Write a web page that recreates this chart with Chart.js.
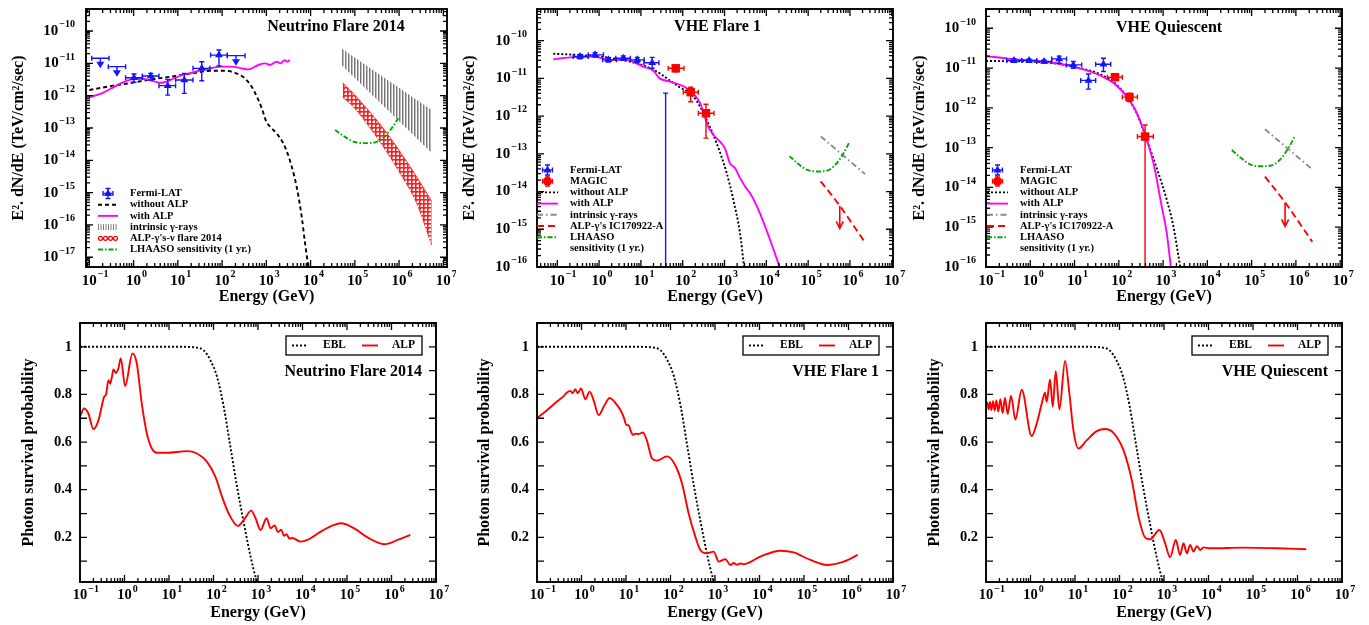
<!DOCTYPE html>
<html lang="en">
<head>
<meta charset="UTF-8">
<meta name="viewport" content="width=device-width, initial-scale=1.0">
<title>ALP - SED and photon survival</title>
<script src="https://cdn.jsdelivr.net/npm/chart.js"></script>
<style>
    body { margin: 0; padding: 0; background-color: #fff; }
    #wrap { position: relative; width: 1369px; height: 625px; overflow: hidden; }
    canvas { position: absolute; }
</style>
</head>
<body>
<div id="wrap">
    <canvas id="sedNF"  width="456" height="310" style="left:0px;top:0px"></canvas>
    <canvas id="sedVF1" width="450" height="310" style="left:456px;top:0px"></canvas>
    <canvas id="sedVQ"  width="463" height="310" style="left:906px;top:0px"></canvas>
    <canvas id="psNF"   width="456" height="315" style="left:0px;top:310px"></canvas>
    <canvas id="psVF1"  width="450" height="315" style="left:456px;top:310px"></canvas>
    <canvas id="psVQ"   width="463" height="315" style="left:906px;top:310px"></canvas>
</div>
<script>
// ---------------- data : Neutrino Flare 2014 (SED) ----------------
const nfFermiE   = [0.177, 0.42, 1.02, 2.44, 5.9, 14.0, 34.7, 85, 206];
const nfFermiElo = [0.113, 0.268, 0.66, 1.58, 3.75, 8.9, 22, 55, 131];
const nfFermiEhi = [0.278, 0.66, 1.58, 3.75, 8.9, 22, 53, 131, 330];
const nfFermiF   = [1.43e-11, 7.9e-12, 3.6e-12, 4.06e-12, 2.04e-12, 3.05e-12, 7.0e-12, 1.8e-11, 1.73e-11];
const nfFermiFlo = [0, 0, 2.6e-12, 3.05e-12, 1.04e-12, 1.18e-12, 2.9e-12, 8.3e-12, 0];
const nfFermiFhi = [0, 0, 4.7e-12, 4.9e-12, 3.2e-12, 4.9e-12, 1.12e-11, 2.58e-11, 0];
const nfFermiUL  = [1, 1, 0, 0, 0, 0, 0, 0, 1];

const nfNoAlpE = [0.1, 0.32, 0.91, 2.57, 7.3, 20.6, 58, 116, 195, 330, 465, 660, 786, 1000, 1320, 1700, 2400, 3400, 4850, 6300, 7500, 8900];
const nfNoAlpF = [1.5e-12, 2.0e-12, 2.5e-12, 3.2e-12, 3.9e-12, 4.9e-12, 5.9e-12, 5.9e-12, 5.1e-12, 3.4e-12, 1.9e-12, 7.4e-13, 4.1e-13, 1.57e-13, 9.8e-14, 6.8e-14, 3.4e-14, 1.0e-14, 1.5e-15, 1.8e-16, 2.7e-17, 5e-18];

const nfAlpE = [0.1, 0.19, 0.32, 0.54, 0.91, 1.52, 2.57, 4.3, 7.3, 12.2, 20.6, 34.7, 58, 98, 165, 277, 390, 660, 940, 1220, 1700, 2100, 2600, 2960, 3400];
const nfAlpF = [9.0e-13, 1.18e-12, 1.7e-12, 2.5e-12, 3.2e-12, 3.35e-12, 2.9e-12, 2.5e-12, 3.2e-12, 4.3e-12, 5.1e-12, 6.2e-12, 7.2e-12, 7.9e-12, 7.9e-12, 7.0e-12, 6.5e-12, 8.9e-12, 1.0e-11, 8.9e-12, 1.12e-11, 1.0e-11, 1.26e-11, 1.12e-11, 1.26e-11];

const nfIntrE  = [5.0e4, 5.4e6];
const nfIntrHi = [2.9e-11, 3.6e-13];
const nfIntrLo = [8.9e-12, 1.7e-14];

const nfAlpNuE  = [5.3e4, 9.2e4, 1.85e5, 4.4e5, 1.05e6, 2.5e6, 5.45e6];
const nfAlpNuHi = [2.5e-12, 1.18e-12, 4.05e-13, 9.8e-14, 1.86e-14, 3.1e-15, 5.4e-16];
const nfAlpNuLo = [8.9e-13, 4.6e-13, 1.39e-13, 2.65e-14, 4.0e-15, 4.7e-16, 2.4e-17];

// LHAASO 1 yr sensitivity (same in the three SED panels)
const lhaasoE = [3.57e4, 5.5e4, 9.25e4, 1.56e5, 2.62e5, 4.4e5, 6.8e5, 9.6e5];
const lhaasoF = [8.7e-14, 5.7e-14, 3.8e-14, 3.4e-14, 3.5e-14, 5.0e-14, 9.8e-14, 2.0e-13];

// ---------------- data : VHE Flare 1 (SED) ----------------
const vf1FermiE   = [0.35, 0.8, 1.66, 3.8, 8.2, 18.6, 39];
const vf1FermiElo = [0.24, 0.55, 1.21, 2.5, 5.6, 11.8, 39];
const vf1FermiEhi = [0.55, 1.27, 2.6, 5.6, 12, 27, 39];
const vf1FermiF   = [3.8e-11, 4.2e-11, 3.1e-11, 3.4e-11, 3.1e-11, 2.6e-11, 1e-18];
const vf1FermiFlo = [3.3e-11, 3.7e-11, 2.7e-11, 3.0e-11, 2.6e-11, 1.86e-11, 1e-18];
const vf1FermiFhi = [4.3e-11, 4.8e-11, 3.5e-11, 3.9e-11, 3.6e-11, 3.6e-11, 4.07e-12];

const vf1MagicE   = [68, 155, 360];
const vf1MagicElo = [45, 103, 236];
const vf1MagicEhi = [107, 236, 560];
const vf1MagicF   = [1.85e-11, 4.3e-12, 1.19e-12];
const vf1MagicFlo = [1.5e-11, 2.4e-12, 2.6e-13];
const vf1MagicFhi = [2.2e-11, 5.8e-12, 2.06e-12];

const vf1NoAlpE = [0.08, 0.73, 4.6, 20, 72, 180, 259, 374, 649, 1125, 1625, 2345, 2924];
const vf1NoAlpF = [4.5e-11, 3.9e-11, 2.9e-11, 1.7e-11, 6.5e-12, 3.3e-12, 1.8e-12, 7.9e-13, 1.9e-13, 3.1e-14, 6.0e-15, 7.9e-16, 1.04e-16];

const vf1AlpE = [0.08, 0.2, 0.73, 1.8, 4.6, 11.4, 19.8, 28, 50, 125, 260, 409, 540, 780, 1025, 1350, 1780, 2345, 3090, 4100, 7000, 12300, 20500];
const vf1AlpF = [3.2e-11, 3.6e-11, 3.8e-11, 3.1e-11, 3.1e-11, 2.05e-11, 1.6e-11, 1.0e-11, 8.2e-12, 5.5e-12, 2.2e-12, 5.2e-13, 3.2e-13, 2.1e-13, 1.4e-13, 5.6e-14, 4.2e-14, 2.3e-14, 1.36e-14, 9.0e-15, 2.7e-15, 5.2e-16, 1.05e-16];

// intrinsic gamma-rays and ALP gammas from IC170922-A (VHE panels)
const vhIntrE  = [2.0e5, 2.3e6];
const vhIntrF  = [2.9e-13, 2.9e-14];
const vhAlpNuE = [2.0e5, 5.7e5, 2.35e6];
const vhAlpNuF = [1.87e-14, 4.2e-15, 4.3e-16];
const vhUlE    = [5.7e5];
const vhUlFrom = [4.2e-15];
const vhUlTo   = [1.05e-15];

// ---------------- data : VHE Quiescent (SED) ----------------
const vqFermiE   = [0.43, 0.94, 2.05, 4.5, 9.4, 20.6, 45];
const vqFermiElo = [0.293, 0.64, 1.40, 3.05, 6.5, 13.8, 30];
const vqFermiEhi = [0.64, 1.40, 3.05, 6.6, 14.5, 30, 65.6];
const vqFermiF   = [1.55e-11, 1.55e-11, 1.46e-11, 1.7e-11, 1.2e-11, 4.9e-12, 1.25e-11];
const vqFermiFlo = [1.4e-11, 1.4e-11, 1.33e-11, 1.32e-11, 9.9e-12, 2.95e-12, 8.2e-12];
const vqFermiFhi = [1.7e-11, 1.7e-11, 1.6e-11, 2.0e-11, 1.46e-11, 7.1e-12, 1.77e-11];

const vqMagicE   = [82, 174, 392];
const vqMagicElo = [55, 120, 263];
const vqMagicEhi = [120, 263, 603];
const vqMagicF   = [5.9e-12, 1.86e-12, 1.9e-13];
const vqMagicFlo = [5.0e-12, 1.44e-12, 1e-18];
const vqMagicFhi = [6.7e-12, 2.33e-12, 3.7e-13];

const vqNoAlpE = [0.1, 1.98, 11.2, 45, 107, 254, 427, 719, 1211, 1711, 2420];
const vqNoAlpF = [1.51e-11, 1.4e-11, 1.03e-11, 6.4e-12, 3.1e-12, 7.3e-13, 1.57e-13, 3.05e-14, 4.9e-15, 1.05e-15, 1.05e-16];

const vqAlpE = [0.1, 0.35, 1.98, 7.9, 31.6, 89.8, 214, 360, 605, 933, 1211, 1490];
const vqAlpF = [2.0e-11, 1.7e-11, 1.46e-11, 1.13e-11, 7.1e-12, 3.6e-12, 1.08e-12, 2.8e-13, 4.1e-14, 3.3e-15, 7.1e-16, 1.05e-16];

// ---------------- data : photon survival probability ----------------
const eblE = [0.1, 20, 40, 60, 85, 120, 170, 240, 340, 480, 680, 880, 1000];
const eblP = [1, 1, 0.997, 0.985, 0.944, 0.874, 0.748, 0.58, 0.41, 0.26, 0.12, 0.035, 0.01];

const nfSurvE = [0.1, 0.123, 0.154, 0.2, 0.259, 0.308, 0.348, 0.385, 0.435, 0.475, 0.517, 0.564, 0.647, 0.731, 0.826, 1.03, 1.51, 1.89, 2.45, 3.18, 4.12, 5.35, 8.98, 25.3, 42.7, 71.6, 110, 156, 220, 352, 480, 703, 880, 1140, 1560, 1920, 2360, 2810, 3340, 3830, 4400, 5050, 5900, 9100, 12900, 25700, 51300, 72500, 145000, 289000, 687000, 1370000, 2650000];
const nfSurvP = [0.706, 0.741, 0.72, 0.655, 0.69, 0.75, 0.79, 0.80, 0.86, 0.845, 0.87, 0.905, 0.89, 0.91, 0.952, 0.835, 0.972, 0.93, 0.76, 0.636, 0.573, 0.555, 0.555, 0.562, 0.552, 0.517, 0.455, 0.37, 0.30, 0.248, 0.273, 0.312, 0.28, 0.231, 0.28, 0.238, 0.25, 0.222, 0.232, 0.207, 0.213, 0.195, 0.197, 0.182, 0.189, 0.224, 0.252, 0.259, 0.238, 0.20, 0.171, 0.189, 0.21];

const vf1SurvE = [0.1, 0.168, 0.281, 0.398, 0.47, 0.561, 0.63, 0.726, 0.82, 0.975, 1.22, 1.52, 1.87, 2.43, 3.15, 4.3, 5.3, 6.3, 7.5, 8.87, 10.2, 11.5, 12.9, 14.3, 16.2, 19.3, 24.1, 29.6, 38.4, 49.8, 83.4, 128, 181, 256, 361, 468, 661, 933, 1210, 1710, 2210, 2630, 3120, 3700, 4410, 10400, 29400, 58600, 139000, 329000, 778000, 1610000];
const vf1SurvP = [0.70, 0.734, 0.77, 0.793, 0.808, 0.815, 0.805, 0.822, 0.805, 0.825, 0.78, 0.812, 0.776, 0.713, 0.748, 0.785, 0.773, 0.755, 0.735, 0.705, 0.672, 0.67, 0.645, 0.63, 0.635, 0.634, 0.64, 0.605, 0.531, 0.522, 0.54, 0.503, 0.427, 0.30, 0.203, 0.147, 0.133, 0.14, 0.098, 0.108, 0.084, 0.092, 0.085, 0.09, 0.087, 0.119, 0.144, 0.137, 0.105, 0.084, 0.098, 0.126];

const vqSurvE = [0.1, 0.107, 0.115, 0.123, 0.132, 0.144, 0.157, 0.171, 0.189, 0.21, 0.237, 0.267, 0.307, 0.365, 0.457, 0.634, 1.06, 1.38, 1.79, 2.12, 2.31, 2.75, 3.16, 3.69, 4.46, 5.98, 7.48, 9.2, 11.9, 18.4, 30.8, 47.5, 73, 122, 189, 267, 377, 488, 791, 1060, 1370, 1840, 2300, 2740, 3260, 3870, 4600, 5470, 6500, 7730, 10900, 61200, 344000, 1570000];
const vqSurvP = [0.75, 0.765, 0.738, 0.768, 0.735, 0.772, 0.732, 0.775, 0.728, 0.78, 0.722, 0.785, 0.718, 0.795, 0.695, 0.82, 0.625, 0.678, 0.762, 0.807, 0.769, 0.863, 0.748, 0.898, 0.737, 0.941, 0.804, 0.65, 0.573, 0.608, 0.646, 0.655, 0.639, 0.567, 0.44, 0.287, 0.199, 0.192, 0.231, 0.175, 0.116, 0.189, 0.126, 0.175, 0.133, 0.168, 0.140, 0.163, 0.147, 0.158, 0.154, 0.157, 0.154, 0.150];

// ---------------- style ----------------
const SERIF = "'Liberation Serif', 'Times New Roman', Times, serif";
const BLUE = '#1414ff', RED = '#ff0000', MAG = '#ff00ff', GREEN = '#00a800', GREY = '#8a8a8a';
const SED_TITLE = 'E\u00b2. dN/dE (TeV/cm\u00b2/sec)';
const LW = 1.9;

const panels = {};   // layout + decorations per canvas id

function pts(E, V) { return E.map((e, i) => ({ x: e, y: V[i] })); }
function errPts(E, F, Elo, Ehi, Flo, Fhi, UL) {
    return E.map((e, i) => ({ x: e, y: F[i], xMin: Elo[i], xMax: Ehi[i], yMin: Flo[i], yMax: Fhi[i], ul: UL ? !!UL[i] : false }));
}

function curve(data, color, dash, width) {
    return { data, borderColor: color, borderDash: dash || [], borderWidth: width || LW, pointRadius: 0,
             fill: false, cubicInterpolationMode: 'monotone', showLine: true };
}
function markers(data, color, style, r) {
    return { data, showLine: false, borderColor: color, pointBackgroundColor: color, pointBorderColor: color,
             pointBorderWidth: 0, pointStyle: style, pointRadius: c => (c.raw && c.raw.ul) ? 0 : r, errorBars: true };
}

function makePattern(id, kind) {
    const c = document.createElement('canvas');
    const g = c.getContext('2d');
    if (kind === 'grey') {
        c.width = 3; c.height = 4;
        g.fillStyle = '#777777'; g.fillRect(0, 0, 1, 4);
        g.fillStyle = '#bdbdbd'; g.fillRect(1, 0, 1, 4);
    } else {
        c.width = 4; c.height = 4;
        g.fillStyle = '#ff1e1e'; g.fillRect(0, 0, 4, 4);
        g.fillStyle = '#ff8080'; g.fillRect(1, 0, 2, 1); g.fillRect(0, 1, 1, 2);
        g.fillStyle = '#ffffff'; g.fillRect(1, 1, 2, 2);
    }
    return document.getElementById(id).getContext('2d').createPattern(c, 'repeat');
}

// ---------------- helpers for the gnuplot like frame ----------------
function logTickList(min, max) {
    const out = [];
    for (let d = Math.floor(Math.log10(min)); d <= Math.ceil(Math.log10(max)); d++) {
        for (let k = 1; k <= 9; k++) {
            const v = k * Math.pow(10, d);
            if (v >= min * 0.9999 && v <= max * 1.0001) out.push({ v, major: k === 1, d });
        }
    }
    return out;
}

function drawPow(ctx, x, y, exp, size, align) {
    const base = '10', sup = exp < 0 ? '\u2212' + (-exp) : String(exp);
    const bf = `bold ${size}px ${SERIF}`, sf = `bold ${Math.round(size * 0.68)}px ${SERIF}`;
    ctx.font = bf; const wb = ctx.measureText(base).width;
    ctx.font = sf; const ws = ctx.measureText(sup).width;
    const left = align === 'center' ? x - wb / 2 : x - wb - ws - 1;
    ctx.textAlign = 'left'; ctx.textBaseline = 'middle';
    ctx.font = bf; ctx.fillText(base, left, y);
    ctx.font = sf; ctx.fillText(sup, left + wb + 1, y - size * 0.42);
}

const errorBarPlugin = {
    id: 'errorBars',
    beforeDatasetDraw(chart, args) {
        const ds = chart.data.datasets[args.index];
        if (!ds.errorBars) return;
        const { ctx, chartArea: a } = chart, xs = chart.scales.x, ys = chart.scales.y;
        ctx.save();
        ctx.beginPath(); ctx.rect(a.left, a.top, a.right - a.left, a.bottom - a.top); ctx.clip();
        ctx.strokeStyle = ds.borderColor; ctx.fillStyle = ds.borderColor; ctx.lineWidth = 1.4;
        const c = 2.5;
        ds.data.forEach(p => {
            const x = xs.getPixelForValue(p.x), y = ys.getPixelForValue(p.y);
            ctx.beginPath();
            if (p.xMin !== p.xMax) {
                const x0 = xs.getPixelForValue(p.xMin), x1 = xs.getPixelForValue(p.xMax);
                ctx.moveTo(x0, y); ctx.lineTo(x1, y);
                ctx.moveTo(x0, y - c); ctx.lineTo(x0, y + c);
                ctx.moveTo(x1, y - c); ctx.lineTo(x1, y + c);
            }
            if (p.ul) {
                ctx.moveTo(x, y); ctx.lineTo(x, y + 4);
                ctx.stroke();
                ctx.beginPath();
                ctx.moveTo(x - 4, y + 3.5); ctx.lineTo(x + 4, y + 3.5); ctx.lineTo(x, y + 10); ctx.closePath();
                ctx.fill();
                return;
            }
            if (p.yMin && p.yMax) {
                const y0 = ys.getPixelForValue(p.yMin), y1 = ys.getPixelForValue(p.yMax);
                ctx.moveTo(x, y0); ctx.lineTo(x, y1);
                ctx.moveTo(x - c, y0); ctx.lineTo(x + c, y0);
                ctx.moveTo(x - c, y1); ctx.lineTo(x + c, y1);
            }
            ctx.stroke();
        });
        ctx.restore();
    }
};

const arrowPlugin = {
    id: 'ulArrows',
    afterDatasetsDraw(chart) {
        const P = panels[chart.canvas.id];
        if (!P.arrows) return;
        const ctx = chart.ctx, xs = chart.scales.x, ys = chart.scales.y;
        ctx.save();
        ctx.strokeStyle = RED; ctx.lineWidth = 1.6;
        P.arrows.E.forEach((e, i) => {
            const x = xs.getPixelForValue(e), y0 = ys.getPixelForValue(P.arrows.from[i]), y1 = ys.getPixelForValue(P.arrows.to[i]);
            ctx.beginPath();
            ctx.moveTo(x, y0); ctx.lineTo(x, y1);
            ctx.moveTo(x - 3.5, y1 - 7); ctx.lineTo(x, y1); ctx.lineTo(x + 3.5, y1 - 7);
            ctx.stroke();
        });
        ctx.restore();
    }
};

const axesBoxPlugin = {
    id: 'axesBox',
    afterDraw(chart) {
        const P = panels[chart.canvas.id];
        const { ctx, chartArea: a } = chart, xs = chart.scales.x, ys = chart.scales.y;
        ctx.save();
        ctx.strokeStyle = '#000'; ctx.lineWidth = 1.3;
        ctx.beginPath();
        const xt = logTickList(xs.min, xs.max);
        xt.forEach(t => {
            const px = xs.getPixelForValue(t.v), L = t.major ? 7 : 4;
            ctx.moveTo(px, a.bottom); ctx.lineTo(px, a.bottom - L);
            ctx.moveTo(px, a.top); ctx.lineTo(px, a.top + L);
        });
        let yt;
        if (P.yLog) {
            yt = logTickList(ys.min, ys.max);
        } else {
            yt = [];
            for (let i = 1; i <= 11; i++) if (i / 10 >= ys.min && i / 10 <= ys.max) yt.push({ v: i / 10, major: true, lab: i % 2 === 0 });
        }
        yt.forEach(t => {
            const py = ys.getPixelForValue(t.v), L = t.major ? 7 : 4;
            ctx.moveTo(a.left, py); ctx.lineTo(a.left + L, py);
            ctx.moveTo(a.right, py); ctx.lineTo(a.right - L, py);
        });
        ctx.stroke();
        ctx.lineWidth = 1.9;
        ctx.strokeRect(a.left, a.top, a.right - a.left, a.bottom - a.top);

        ctx.fillStyle = '#000';
        xt.filter(t => t.major).forEach(t => {
            drawPow(ctx, xs.getPixelForValue(t.v), a.bottom + P.xLabDy, t.d, P.labSize, 'center');
        });
        if (P.yLog) {
            yt.filter(t => t.major).forEach(t => {
                drawPow(ctx, a.left - P.yLabGap, ys.getPixelForValue(t.v), t.d, P.labSize, 'right');
            });
        } else {
            ctx.font = `bold ${P.labSize}px ${SERIF}`;
            ctx.textAlign = 'right'; ctx.textBaseline = 'middle';
            yt.filter(t => t.lab).forEach(t => {
                const s = Math.abs(t.v - 1) < 1e-9 ? '1' : t.v.toFixed(1);
                ctx.fillText(s, a.left - P.yLabGap, ys.getPixelForValue(t.v));
            });
        }
        ctx.restore();
    }
};

function drawKeySymbol(ctx, it, x0, x1, y) {
    const xc = (x0 + x1) / 2;
    ctx.save();
    if (it.kind === 'line') {
        ctx.strokeStyle = it.color; ctx.lineWidth = LW; ctx.setLineDash(it.dash || []);
        ctx.beginPath(); ctx.moveTo(x0, y); ctx.lineTo(x1, y); ctx.stroke();
    } else if (it.kind === 'fermi' || it.kind === 'magic') {
        ctx.strokeStyle = it.color; ctx.fillStyle = it.color; ctx.lineWidth = 1.3;
        const e = 5, c = 2.5;
        ctx.beginPath();
        ctx.moveTo(xc - e, y); ctx.lineTo(xc + e, y);
        ctx.moveTo(xc - e, y - c); ctx.lineTo(xc - e, y + c);
        ctx.moveTo(xc + e, y - c); ctx.lineTo(xc + e, y + c);
        ctx.moveTo(xc, y - e); ctx.lineTo(xc, y + e);
        ctx.moveTo(xc - c, y - e); ctx.lineTo(xc + c, y - e);
        ctx.moveTo(xc - c, y + e); ctx.lineTo(xc + c, y + e);
        ctx.stroke();
        ctx.beginPath();
        if (it.kind === 'fermi') {
            ctx.moveTo(xc, y - 4.5); ctx.lineTo(xc + 4, y + 2.5); ctx.lineTo(xc - 4, y + 2.5); ctx.closePath();
        } else {
            ctx.arc(xc, y, 4.5, 0, 2 * Math.PI);
        }
        ctx.fill();
    } else if (it.kind === 'greyHatch') {
        ctx.strokeStyle = '#808080'; ctx.lineWidth = 1;
        ctx.beginPath();
        for (let x = x0 + 0.5; x <= x1; x += 2.5) { ctx.moveTo(x, y - 3); ctx.lineTo(x, y + 3); }
        ctx.stroke();
    } else if (it.kind === 'redHatch') {
        ctx.strokeStyle = RED; ctx.lineWidth = 1.2;
        for (let k = 0; k < 4; k++) {
            ctx.beginPath(); ctx.arc(x0 + 2.5 + k * 5, y, 2, 0, 2 * Math.PI); ctx.stroke();
        }
    }
    ctx.restore();
}

const keyPlugin = {
    id: 'keyBox',
    afterDraw(chart) {
        const P = panels[chart.canvas.id];
        const K = P.key;
        if (!K) return;
        const ctx = chart.ctx, a = chart.chartArea;
        ctx.save();
        if (K.box) {
            ctx.strokeStyle = '#000'; ctx.lineWidth = 1.3;
            ctx.strokeRect(a.right - K.box.right - K.box.w, a.top + K.box.top, K.box.w, K.box.h);
        }
        ctx.textAlign = 'left'; ctx.textBaseline = 'middle';
        K.items.forEach((it, i) => {
            const y = it.y !== undefined ? it.y : K.y0 + i * K.dy;
            const sx0 = it.sx0 !== undefined ? it.sx0 : K.sx0;
            const sx1 = it.sx1 !== undefined ? it.sx1 : K.sx1;
            const tx = it.tx !== undefined ? it.tx : K.tx;
            if (it.kind) drawKeySymbol(ctx, it, sx0, sx1, y);
            ctx.fillStyle = '#000';
            ctx.font = `bold ${K.size}px ${SERIF}`;
            ctx.fillText(it.text, tx, y);
        });
        ctx.restore();
    }
};

const titlePlugin = {
    id: 'panelTitle',
    afterDraw(chart) {
        const T = panels[chart.canvas.id].title;
        const ctx = chart.ctx;
        ctx.save();
        ctx.fillStyle = '#000';
        ctx.font = `bold ${T.size}px ${SERIF}`;
        ctx.textAlign = T.align; ctx.textBaseline = 'middle';
        ctx.fillText(T.text, T.x, T.y);
        ctx.restore();
    }
};

function build(id, P, datasets) {
    panels[id] = P;
    return new Chart(document.getElementById(id), {
        type: 'line',
        data: { datasets },
        options: {
            responsive: false,
            animation: false,
            events: [],
            layout: { padding: { left: 0, top: P.area.top, right: P.w - P.area.right, bottom: 0 } },
            plugins: { legend: { display: false }, tooltip: { enabled: false } },
            scales: {
                x: {
                    type: 'logarithmic', min: P.xMin, max: P.xMax,
                    ticks: { display: false }, grid: { display: false }, border: { display: false },
                    title: { display: true, text: 'Energy (GeV)', color: '#000',
                             font: { family: SERIF, size: 16, weight: 'bold' }, padding: { top: 0, bottom: P.xTitlePad } },
                    afterFit: s => { s.height = P.h - P.area.bottom; }
                },
                y: {
                    type: P.yLog ? 'logarithmic' : 'linear', min: P.yMin, max: P.yMax,
                    ticks: { display: false }, grid: { display: false }, border: { display: false },
                    title: { display: true, text: P.yTitle, color: '#000',
                             font: { family: SERIF, size: 16, weight: 'bold' }, padding: { top: P.yTitlePad, bottom: 0 } },
                    afterFit: s => { s.width = P.area.left; }
                }
            }
        },
        plugins: [errorBarPlugin, arrowPlugin, axesBoxPlugin, keyPlugin, titlePlugin]
    });
}

// ---------------- top row : SEDs ----------------
const vhKeyItems = [
    { kind: 'fermi', color: BLUE, text: 'Fermi-LAT' },
    { kind: 'magic', color: RED, text: 'MAGIC' },
    { kind: 'line', color: '#000', dash: [2, 2], text: 'without ALP' },
    { kind: 'line', color: MAG, dash: [], text: 'with ALP' },
    { kind: 'line', color: GREY, dash: [6, 3, 1.5, 3], text: 'intrinsic \u03b3-rays' },
    { kind: 'line', color: RED, dash: [7, 4], text: "ALP-\u03b3's IC170922-A" },
    { kind: 'line', color: GREEN, dash: [5, 2, 1.5, 2], text: 'LHAASO' },
    { kind: null, text: 'sensitivity (1 yr.)' }
];

build('sedNF', {
    w: 456, h: 310, area: { left: 86, right: 447, top: 9, bottom: 267 },
    xMin: 0.084, xMax: 1.21e7, yLog: true, yMin: 5e-18, yMax: 4.8e-10,
    yTitle: SED_TITLE, yTitlePad: 9, xTitlePad: 3.4, labSize: 15, xLabDy: 14, yLabGap: 11,
    title: { text: 'Neutrino Flare 2014', x: 336, y: 27, align: 'center', size: 16 },
    key: { size: 10.5, y0: 193.5, dy: 11.2, sx0: 98, sx1: 118, tx: 130, items: [
        { kind: 'fermi', color: BLUE, text: 'Fermi-LAT' },
        { kind: 'line', color: '#000', dash: [4, 3], text: 'without ALP' },
        { kind: 'line', color: MAG, dash: [], text: 'with ALP' },
        { kind: 'greyHatch', text: 'intrinsic \u03b3-rays' },
        { kind: 'redHatch', text: "ALP-\u03b3's-\u03bd flare 2014" },
        { kind: 'line', color: GREEN, dash: [5, 2, 1.5, 2], text: 'LHAASO sensitivity (1 yr.)' }
    ] }
}, [
    markers(errPts(nfFermiE, nfFermiF, nfFermiElo, nfFermiEhi, nfFermiFlo, nfFermiFhi, nfFermiUL), BLUE, 'triangle', 4.5),
    curve(pts(nfAlpE, nfAlpF), MAG),
    curve(pts(nfNoAlpE, nfNoAlpF), '#000', [4, 3]),
    curve(pts(lhaasoE, lhaasoF), GREEN, [5, 2, 1.5, 2]),
    { data: pts(nfAlpNuE, nfAlpNuHi), borderColor: '#ff4040', borderWidth: 1, pointRadius: 0, cubicInterpolationMode: 'monotone',
      fill: '+1', backgroundColor: makePattern('sedNF', 'red') },
    { data: pts(nfAlpNuE, nfAlpNuLo), borderColor: '#ff4040', borderWidth: 1, pointRadius: 0, cubicInterpolationMode: 'monotone', fill: false },
    { data: pts(nfIntrE, nfIntrHi), borderColor: 'rgba(0,0,0,0)', borderWidth: 0, pointRadius: 0,
      fill: '+1', backgroundColor: makePattern('sedNF', 'grey') },
    { data: pts(nfIntrE, nfIntrLo), borderColor: 'rgba(0,0,0,0)', borderWidth: 0, pointRadius: 0, fill: false }
]);

build('sedVF1', {
    w: 450, h: 310, area: { left: 81, right: 437, top: 9, bottom: 267 },
    xMin: 0.0327, xMax: 1.07e7, yLog: true, yMin: 1e-16, yMax: 6.9e-10,
    yTitle: SED_TITLE, yTitlePad: 4.5, xTitlePad: 3.4, labSize: 15, xLabDy: 14, yLabGap: 10,
    title: { text: 'VHE Flare 1', x: 261.5, y: 27, align: 'center', size: 16 },
    arrows: { E: vhUlE, from: vhUlFrom, to: vhUlTo },
    key: { size: 10.5, y0: 170, dy: 11.2, sx0: 81, sx1: 102, tx: 114, items: vhKeyItems }
}, [
    markers(errPts(vf1MagicE, vf1MagicF, vf1MagicElo, vf1MagicEhi, vf1MagicFlo, vf1MagicFhi), RED, 'rect', 6),
    markers(errPts(vf1FermiE, vf1FermiF, vf1FermiElo, vf1FermiEhi, vf1FermiFlo, vf1FermiFhi), BLUE, 'triangle', 4.5),
    curve(pts(vf1AlpE, vf1AlpF), MAG),
    curve(pts(vf1NoAlpE, vf1NoAlpF), '#000', [2, 2]),
    curve(pts(lhaasoE, lhaasoF), GREEN, [5, 2, 1.5, 2]),
    curve(pts(vhAlpNuE, vhAlpNuF), RED, [7, 4]),
    curve(pts(vhIntrE, vhIntrF), GREY, [6, 3, 1.5, 3])
]);

build('sedVQ', {
    w: 463, h: 310, area: { left: 80, right: 436, top: 9, bottom: 267 },
    xMin: 0.1, xMax: 1.1e7, yLog: true, yMin: 1e-16, yMax: 3.05e-10,
    yTitle: SED_TITLE, yTitlePad: 4.5, xTitlePad: 3.4, labSize: 15, xLabDy: 14, yLabGap: 10,
    title: { text: 'VHE Quiescent', x: 263, y: 27.5, align: 'center', size: 16 },
    arrows: { E: vhUlE, from: vhUlFrom, to: vhUlTo },
    key: { size: 10.5, y0: 170, dy: 11.2, sx0: 81, sx1: 102, tx: 114, items: vhKeyItems }
}, [
    markers(errPts(vqMagicE, vqMagicF, vqMagicElo, vqMagicEhi, vqMagicFlo, vqMagicFhi), RED, 'rect', 6),
    markers(errPts(vqFermiE, vqFermiF, vqFermiElo, vqFermiEhi, vqFermiFlo, vqFermiFhi), BLUE, 'triangle', 4.5),
    curve(pts(vqAlpE, vqAlpF), MAG),
    curve(pts(vqNoAlpE, vqNoAlpF), '#000', [2, 2]),
    curve(pts(lhaasoE, lhaasoF), GREEN, [5, 2, 1.5, 2]),
    curve(pts(vhAlpNuE, vhAlpNuF), RED, [7, 4]),
    curve(pts(vhIntrE, vhIntrF), GREY, [6, 3, 1.5, 3])
]);

// ---------------- bottom row : photon survival probability ----------------
function survKey() {
    return { size: 11.5, box: { right: 14, top: 13, w: 136, h: 19 }, items: [
        { kind: 'line', color: '#000', dash: [2, 2], text: 'EBL', y: 35.5, sx0: 0, sx1: 0, tx: 0 },
        { kind: 'line', color: RED, dash: [], text: 'ALP', y: 35.5, sx0: 0, sx1: 0, tx: 0 }
    ] };
}
function placeSurvKey(P) {
    const left = P.area.right - 14 - 136;
    P.key.items[0].sx0 = left + 6;  P.key.items[0].sx1 = left + 22; P.key.items[0].tx = left + 37;
    P.key.items[1].sx0 = left + 76; P.key.items[1].sx1 = left + 92; P.key.items[1].tx = left + 106;
    return P;
}
function survPanel(w, left, right, title) {
    return placeSurvKey({
        w, h: 315, area: { left, right, top: 13, bottom: 272 },
        xMin: 0.1, xMax: 1e7, yLog: false, yMin: 0.0125, yMax: 1.1,
        yTitle: 'Photon survival probability', yTitlePad: 19.5, xTitlePad: 2.4, labSize: 14.5, xLabDy: 13.5, yLabGap: 8,
        title: { text: title, x: right - 14, y: 62, align: 'right', size: 16 },
        key: survKey()
    });
}

build('psNF', survPanel(456, 80, 436, 'Neutrino Flare 2014'), [
    curve(pts(nfSurvE, nfSurvP), RED),
    curve(pts(eblE, eblP), '#000', [2, 2])
]);
build('psVF1', survPanel(450, 81, 437, 'VHE Flare 1'), [
    curve(pts(vf1SurvE, vf1SurvP), RED),
    curve(pts(eblE, eblP), '#000', [2, 2])
]);
build('psVQ', survPanel(463, 80, 436, 'VHE Quiescent'), [
    curve(pts(vqSurvE, vqSurvP), RED),
    curve(pts(eblE, eblP), '#000', [2, 2])
]);
</script>
</body>
</html>
